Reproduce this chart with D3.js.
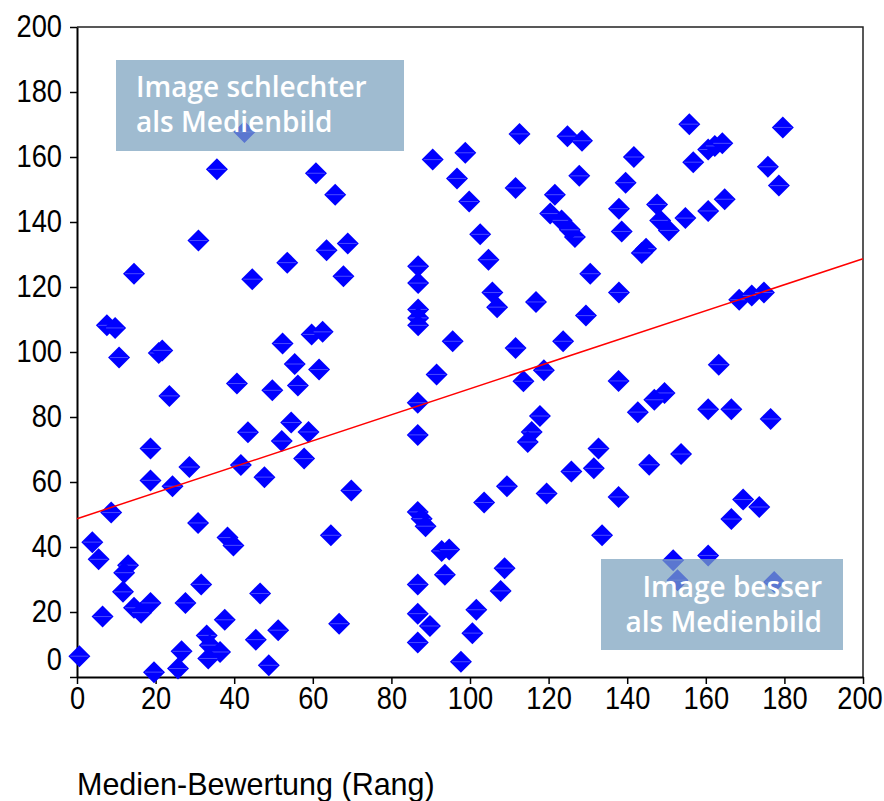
<!DOCTYPE html>
<html>
<head>
<meta charset="utf-8">
<script src="https://cdn.jsdelivr.net/npm/d3@7"></script>
<style>
  body { margin: 0; background: #fff; }
  svg text { font-family: "Liberation Sans", Arial, sans-serif; }
</style>
</head>
<body>
<div id="chart"></div>
<script>
// media rating rank (x) and image rank (y)
var mediaRank = [
  42.6, 35.6, 30.9, 60.8, 65.7, 68.9, 90.5, 98.8, 96.7, 99.8,
  102.6, 112.6, 111.6, 124.8, 128.5, 127.8, 121.6, 141.7, 139.6, 137.9,
  138.6, 147.6, 148.4, 150.6, 154.8, 160.6, 164.8, 155.8, 156.8, 160.6,
  162.3, 164.2, 179.6, 175.8, 178.6, 144.8, 143.7, 126.7, 130.6, 137.9,
  129.5, 123.7, 168.5, 171.7, 174.8, 163.3, 137.8, 149.5, 146.9, 142.7,
  160.6, 166.5, 176.5, 132.7, 153.7, 145.6, 131.5, 125.8, 137.8, 133.6,
  169.5, 173.6, 166.5, 151.7, 160.6, 152.8, 177.4, 57.8, 69.8, 64.6,
  66.7, 51.2, 86.7, 87.7, 88.7, 92.8, 94.7, 93.6, 86.7, 86.7,
  89.8, 86.7, 97.7, 100.6, 101.6, 108.8, 107.8, 103.6, 109.4, 119.5,
  0.6, 3.9, 5.5, 6.5, 8.7, 13.0, 12.0, 11.7, 14.5, 16.3,
  18.7, 18.7, 19.6, 24.3, 28.6, 27.6, 26.6, 25.7, 30.8, 31.6,
  33.0, 33.8, 36.4, 33.4, 37.6, 38.3, 39.8, 41.7, 47.7, 46.6,
  45.5, 48.8, 14.5, 44.6, 53.5, 7.6, 9.7, 10.7, 20.8, 21.7,
  23.5, 40.7, 52.3, 55.4, 49.7, 56.2, 43.5, 54.5, 52.1, 18.7,
  63.5, 67.8, 86.8, 86.8, 86.8, 86.8, 86.8, 104.7, 105.7, 106.9,
  116.8, 111.6, 95.6, 59.7, 62.5, 61.6, 58.9, 86.7, 86.7, 91.5,
  113.6, 118.8, 117.8, 115.7, 114.7, 120.4, 123.3, 125.4
];
var imageRank = [
  167.7, 156.2, 134.3, 155.0, 148.4, 133.4, 159.2, 161.3, 153.4, 146.3,
  136.2, 167.1, 150.5, 166.4, 165.0, 154.2, 148.4, 160.0, 152.1, 144.1,
  137.1, 145.4, 140.5, 137.4, 141.2, 143.4, 147.0, 170.1, 158.4, 162.3,
  163.4, 164.2, 169.1, 157.0, 151.2, 131.8, 130.5, 135.4, 124.1, 118.3,
  111.2, 103.3, 116.1, 117.4, 118.3, 96.1, 91.1, 87.4, 85.3, 81.5,
  82.4, 82.4, 79.4, 70.3, 68.6, 65.3, 64.2, 63.2, 55.4, 43.6,
  54.6, 52.3, 48.6, 35.9, 37.4, 29.8, 29.2, 67.2, 57.4, 43.6,
  16.4, 14.4, 50.8, 48.7, 46.4, 38.8, 39.2, 31.5, 28.5, 19.5,
  15.7, 10.6, 4.7, 13.5, 20.7, 33.5, 26.5, 53.7, 58.7, 56.5,
  6.4, 41.5, 36.2, 18.6, 50.6, 34.4, 32.1, 26.2, 21.3, 19.8,
  22.8, 60.5, 1.5, 58.7, 64.6, 22.8, 7.9, 2.6, 47.4, 28.5,
  12.8, 9.8, 7.7, 5.7, 17.6, 42.9, 40.5, 65.2, 61.5, 25.7,
  11.5, 3.6, 124.1, 122.4, 127.5, 108.2, 107.4, 98.3, 99.7, 100.5,
  86.5, 90.3, 102.6, 96.3, 88.2, 89.7, 75.3, 78.3, 72.6, 70.3,
  131.3, 123.3, 126.4, 121.2, 113.1, 110.5, 108.2, 128.4, 118.3, 113.8,
  115.4, 101.2, 103.3, 105.4, 106.2, 94.6, 75.4, 84.4, 74.5, 93.1,
  91.0, 94.4, 80.3, 75.4, 72.3, 142.6, 140.5, 137.6
];
// fitted regression line, end points
var fitX = [0, 200];
var fitY = [48.7, 128.7];
var xTicks = [0, 20, 40, 60, 80, 100, 120, 140, 160, 180, 200];
var yTicks = [0, 20, 40, 60, 80, 100, 120, 140, 160, 180, 200];
var noteWorse = ["Image schlechter", "als Medienbild"];
var noteBetter = ["Image besser", "als Medienbild"];
var xTitle = "Medien-Bewertung (Rang)";

var width = 884, height = 801;
var margin = {top: 27, right: 21, bottom: 124, left: 77};
var squeeze = 0.88; // tick labels are a narrow face

var svg = d3.select("#chart").append("svg")
  .attr("width", width)
  .attr("height", height);

var x = d3.scaleLinear().domain([0, 200]).range([margin.left, width - margin.right]);
var y = d3.scaleLinear().domain([0, 200]).range([height - margin.bottom, margin.top]);

// frame on top and right
svg.append("path")
  .attr("d", "M" + x(0) + "," + y(200) + "H" + x(200) + "V" + y(0))
  .attr("fill", "none")
  .attr("stroke", "#222")
  .attr("stroke-width", 1.5);

// axes
var gx = svg.append("g")
  .attr("transform", "translate(0," + y(0) + ")")
  .call(d3.axisBottom(x).tickValues(xTicks).tickSize(7).tickPadding(3).tickSizeOuter(0));
var gy = svg.append("g")
  .attr("transform", "translate(" + x(0) + ",0)")
  .call(d3.axisLeft(y).tickValues(yTicks).tickSize(7).tickPadding(8).tickSizeOuter(0));

[gx, gy].forEach(function(g) {
  g.select(".domain").attr("stroke", "#000").attr("stroke-width", 2);
  g.selectAll(".tick line").attr("stroke", "#000").attr("stroke-width", 1.5);
  g.selectAll(".tick text")
    .attr("fill", "#000")
    .attr("transform", "scale(" + squeeze + ",1)")
    .style("font-size", "31px")
    .style("font-family", "'Liberation Sans', Arial, sans-serif");
});
gy.selectAll(".tick text").attr("x", -15 / squeeze);
// bottom y label sits a bit higher than its tick
gy.selectAll(".tick text").filter(function(d) { return d === 0; }).attr("y", -17);
// last x label is pulled in so it stays on the page
gx.selectAll(".tick text").filter(function(d) { return d === 200; }).attr("x", -4);

// points
var pts = mediaRank.map(function(v, i) { return {x: v, y: imageRank[i]}; });
var r = 11;
var marks = svg.append("g").selectAll("g")
  .data(pts)
  .join("g")
  .attr("transform", function(d) { return "translate(" + x(d.x) + "," + y(d.y) + ")"; });
marks.append("path")
  .attr("d", "M0," + (-r) + "L" + r + ",0L0," + r + "L" + (-r) + ",0Z")
  .attr("fill", "#0000ff");
marks.append("line")
  .attr("x1", -r + 2).attr("x2", r - 2)
  .attr("stroke", "#5b5bff").attr("stroke-width", 0.8);

// regression line
svg.append("line")
  .attr("x1", x(fitX[0])).attr("y1", y(fitY[0]))
  .attr("x2", x(fitX[1])).attr("y2", y(fitY[1]))
  .attr("stroke", "#ff0000")
  .attr("stroke-width", 1.5);

// annotation boxes
function note(box, lines, anchor, tx, ty) {
  var g = svg.append("g");
  g.append("rect")
    .attr("x", box[0]).attr("y", box[1])
    .attr("width", box[2]).attr("height", box[3])
    .attr("fill", "#7ba2be")
    .attr("fill-opacity", 0.73);
  g.selectAll("text")
    .data(lines)
    .join("text")
    .attr("x", tx)
    .attr("y", function(d, i) { return ty + i * 35; })
    .attr("text-anchor", anchor)
    .attr("fill", "#fff")
    .style("font-family", "'Open Sans', sans-serif")
    .style("font-weight", 600)
    .style("font-size", "28px")
    .text(function(d) { return d; });
}
note([116, 60, 288, 91], noteWorse, "start", 136, 97);
note([601, 559, 242, 91], noteBetter, "end", 822, 597);

// x axis title
svg.append("text")
  .attr("x", 77)
  .attr("y", 795)
  .attr("fill", "#000")
  .style("font-size", "30.5px")
  .text(xTitle);
</script>
</body>
</html>
